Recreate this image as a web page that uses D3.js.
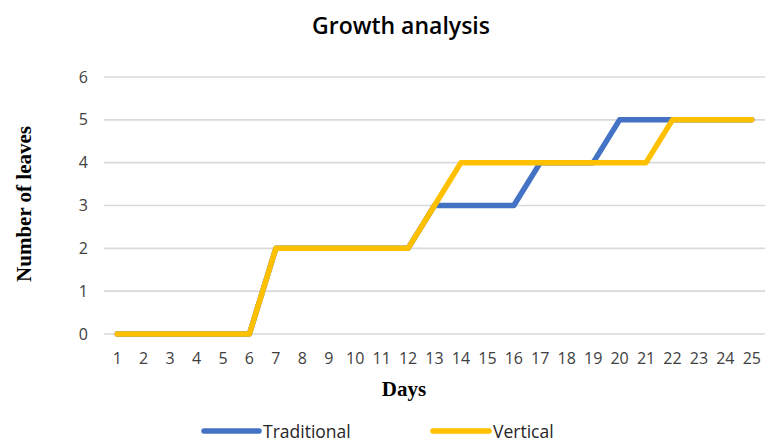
<!DOCTYPE html>
<html>
<head>
<meta charset="utf-8">
<script src="https://cdn.jsdelivr.net/npm/d3@7"></script>
<style>
  html, body { margin: 0; padding: 0; background: #fff; }
  svg { display: block; }
</style>
</head>
<body>
<svg id="chart" width="768" height="442"></svg>
<script>
// Days observed and number of leaves counted for each growing method
const days = d3.range(1, 26).map(String);
const traditional = [0,0,0,0,0,0,2,2,2,2,2,2,3,3,3,3,4,4,4,5,5,5,5,5,5];
const vertical    = [0,0,0,0,0,0,2,2,2,2,2,2,3,4,4,4,4,4,4,4,4,5,5,5,5];
const yTicks = [0,1,2,3,4,5,6];
const seriesNames = ["Traditional", "Vertical"];
const seriesColors = ["#4472C4", "#FFC000"];

const svg = d3.select("#chart");
const margin = { left: 104, right: 3, top: 77, bottom: 108 };
const W = 768, H = 442;

const x = d3.scaleBand().domain(days).range([margin.left, W - margin.right]);
const y = d3.scaleLinear().domain([0, 6]).range([H - margin.bottom, margin.top]);

// Gridlines
svg.append("g")
  .selectAll("line")
  .data(yTicks)
  .join("line")
  .attr("x1", margin.left)
  .attr("x2", W - margin.right)
  .attr("y1", d => y(d))
  .attr("y2", d => y(d))
  .attr("stroke", "#d9d9d9")
  .attr("stroke-width", 1.6);

// Y axis labels
const yAxis = svg.append("g")
  .attr("transform", `translate(${margin.left},0)`)
  .call(d3.axisLeft(y).tickValues(yTicks).tickFormat(d3.format("d")).tickSize(0).tickPadding(16));
yAxis.select(".domain").remove();
yAxis.selectAll("text")
  .attr("font-family", "'Open Sans', sans-serif")
  .attr("font-size", 16)
  .attr("fill", "#404040");

// X axis labels
const xAxis = svg.append("g")
  .attr("transform", `translate(0,${y(0)})`)
  .call(d3.axisBottom(x).tickSize(0).tickPadding(19));
xAxis.select(".domain").remove();
xAxis.selectAll("text")
  .attr("font-family", "'Open Sans', sans-serif")
  .attr("font-size", 16)
  .attr("fill", "#404040");

// Lines
const line = d3.line()
  .x((d, i) => x(days[i]) + x.bandwidth() / 2)
  .y(d => y(d));

[traditional, vertical].forEach((vals, k) => {
  svg.append("path")
    .datum(vals)
    .attr("d", line)
    .attr("fill", "none")
    .attr("stroke", seriesColors[k])
    .attr("stroke-width", 5.5)
    .attr("stroke-linecap", "round")
    .attr("stroke-linejoin", "round");
});

// Title
svg.append("text")
  .attr("x", 401)
  .attr("y", 34)
  .attr("text-anchor", "middle")
  .attr("font-family", "'Open Sans', sans-serif")
  .attr("font-weight", 600)
  .attr("font-size", 23)
  .attr("fill", "#000")
  .text("Growth analysis");

// Axis titles
svg.append("text")
  .attr("x", 404)
  .attr("y", 396)
  .attr("text-anchor", "middle")
  .attr("font-family", "'Liberation Serif', serif")
  .attr("font-weight", "bold")
  .attr("font-size", 21)
  .attr("fill", "#000")
  .text("Days");

svg.append("text")
  .attr("transform", "translate(31,204) rotate(-90)")
  .attr("text-anchor", "middle")
  .attr("font-family", "'Liberation Serif', serif")
  .attr("font-weight", "bold")
  .attr("font-size", 21)
  .attr("fill", "#000")
  .text("Number of  leaves");

// Legend
const legendItems = [
  { x1: 204, x2: 259, tx: 263 },
  { x1: 433, x2: 489, tx: 493 }
];
legendItems.forEach((it, k) => {
  svg.append("line")
    .attr("x1", it.x1).attr("x2", it.x2)
    .attr("y1", 431).attr("y2", 431)
    .attr("stroke", seriesColors[k])
    .attr("stroke-width", 5.5)
    .attr("stroke-linecap", "round");
  svg.append("text")
    .attr("x", it.tx)
    .attr("y", 438)
    .attr("font-family", "'Open Sans', sans-serif")
    .attr("font-size", 17.5)
    .attr("fill", "#262626")
    .text(seriesNames[k]);
});
</script>
</body>
</html>
